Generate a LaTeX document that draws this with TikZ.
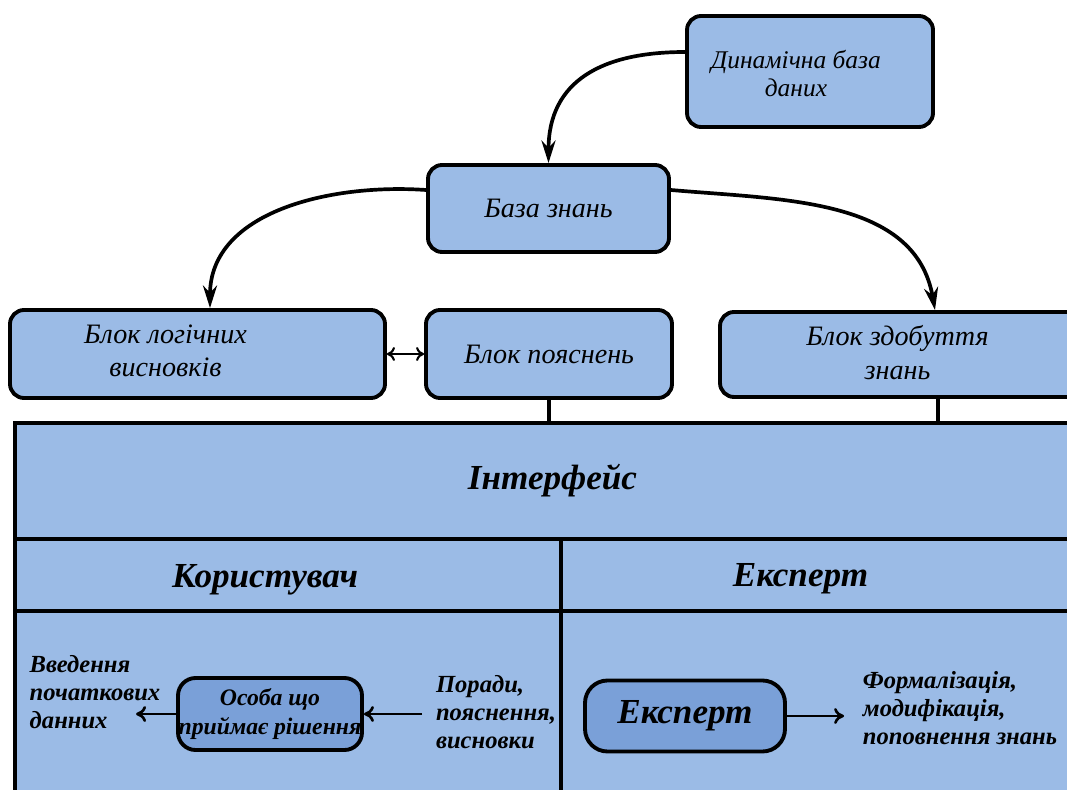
\documentclass[tikz,border=0pt]{standalone}
\usepackage{fontspec}
\setmainfont{Liberation Serif}
\usetikzlibrary{arrows.meta,positioning,calc}

\definecolor{paneblue}{RGB}{155,187,230}
\definecolor{actorblue}{RGB}{122,160,216}

\begin{document}
\begin{tikzpicture}[
    block/.style={draw, line width=2.2pt, rounded corners=8pt, fill=paneblue, align=center, font=\fontsize{16}{19}\selectfont\itshape},
    caption/.style={align=center, font=\fontsize{16}{19}\selectfont\itshape},
    pane/.style={draw, line width=2pt, fill=paneblue, inner sep=0pt, font=\fontsize{20}{24}\selectfont\bfseries\itshape},
    title/.style={font=\fontsize{20}{24}\selectfont\bfseries\itshape},
    actor/.style={draw, line width=2.2pt, rounded corners=10pt, fill=actorblue, align=center, inner xsep=0pt, font=\fontsize{13.5}{17}\selectfont\bfseries\itshape},
    note/.style={align=left, inner sep=2pt, font=\fontsize{14}{16}\selectfont\bfseries\itshape},
    link/.style={line width=2.1pt, -{Stealth[length=4.5mm,width=2.8mm]}},
    flow/.style={line width=1.5pt, -{To[length=2mm,width=3.2mm]}}
  ]
  \clip (0,0) rectangle (21.34,-15.8);
  % Бази знань і блоки
  \node[block, minimum width=4.92cm, minimum height=2.22cm,
    label={[caption, font=\fontsize{14.5}{15.5}\selectfont\itshape, xshift=-0.28cm, yshift=-0.04cm]center:Динамічна база\\даних}] (dyn) at (16.2,-1.43) {};
  \node[block, minimum width=4.82cm, minimum height=1.74cm] (kb) at (10.97,-4.17) {База знань};
  \node[block, minimum width=7.5cm, minimum height=1.76cm,
    label={[caption, xshift=-0.64cm, yshift=0.06cm]center:Блок логічних\\висновків}] (logic) at (3.95,-7.08) {};
  \node[block, minimum width=4.92cm, minimum height=1.76cm] (explain) at (10.98,-7.08) {Блок пояснень};
  \node[block, minimum width=8cm, minimum height=1.7cm,
    label={[caption, xshift=-0.45cm, yshift=0.04cm]center:Блок здобуття\\знань}] (acquire) at (18.4,-7.09) {};
  % Зв'язки між блоками
  \draw[link] ([yshift=0.39cm]dyn.west) to[out=180,in=90,looseness=1.2] (kb.north);
  \draw[link] ([yshift=0.37cm]kb.west) to[out=176,in=90] ([xshift=0.25cm]logic.north);
  \draw[link] ([yshift=0.37cm]kb.east) to[out=-5,in=100] ([xshift=0.3cm]acquire.north);
  \draw[line width=1.2pt, {To[length=1.6mm,width=2.8mm]}-{To[length=1.6mm,width=2.8mm]}] (logic.east) -- (explain.west);
  % Інтерфейс
  \node[pane, minimum width=21.5cm, minimum height=2.32cm] (iface) at (11.05,-9.62) {\raisebox{0.12cm}{Інтерфейс}};
  \node[pane, minimum width=10.92cm, minimum height=1.44cm,
    label={[title, xshift=-0.46cm, yshift=-0.1cm]center:Користувач}] (userhd) at (5.76,-11.5) {};
  \node[pane, minimum width=10.58cm, minimum height=1.44cm,
    label={[title, xshift=-0.5cm, yshift=-0.08cm]center:Експерт}] (experthd) at (16.51,-11.5) {};
  \node[pane, minimum width=10.92cm, minimum height=4cm] (userpane) at (5.76,-14.22) {};
  \node[pane, minimum width=10.58cm, minimum height=4cm] (expertpane) at (16.51,-14.22) {};
  \draw[line width=2pt] (explain.south) -- (explain.south |- iface.north);
  \draw[line width=2pt] ([xshift=0.36cm]acquire.south) -- ([xshift=0.36cm]acquire.south |- iface.north);
  % Користувач
  \node[actor, minimum width=3.68cm, minimum height=1.44cm] (person) at (5.4,-14.28) {Особа що\\приймає рішення};
  \node[note] (input) at (1.9,-13.84) {Введення\\початкових\\данних};
  \node[note] (advice) at (9.92,-14.24) {Поради,\\пояснення,\\висновки};
  \coordinate (inputtip) at ($(person.west)+(-0.8,0)$);
  \draw[flow] (person.west) -- (inputtip);
  \draw[flow] ([xshift=-0.2cm]advice.west |- person.east) -- (person.east);
  % Експерт
  \node[actor, rounded corners=0.45cm, minimum width=4cm, minimum height=1.42cm, font=\fontsize{20}{24}\selectfont\bfseries\itshape] (expert) at (13.7,-14.32) {Експерт};
  \node[note] (formal) at (19.2,-14.16) {Формалізація,\\модифікація,\\поповнення знань};
  \draw[flow, shorten >=0.3cm] (expert.east) -- (expert.east -| formal.west);
\end{tikzpicture}
\end{document}
